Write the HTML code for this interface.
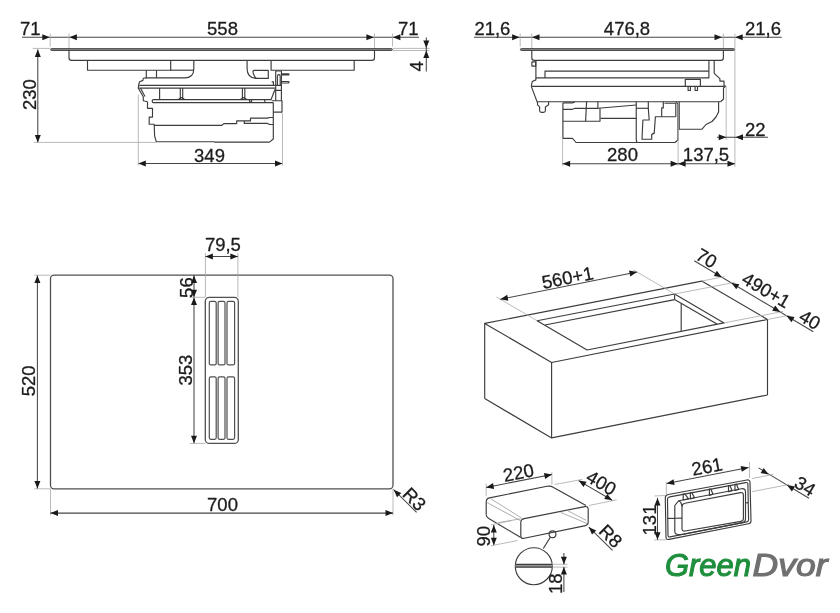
<!DOCTYPE html>
<html><head><meta charset="utf-8"><style>
html,body{margin:0;padding:0;background:#fff;}
svg{display:block;will-change:transform;}
.m{stroke:#3c3c3c;stroke-width:1.15;fill:none;stroke-linejoin:round;}
.d{stroke:#464646;stroke-width:1.05;fill:none;}
.e{stroke:#a8a8a8;stroke-width:0.8;fill:none;}
.e2{stroke:#9a9a9a;stroke-width:0.8;fill:none;}
.a{fill:#1a1a1a;stroke:none;}
.g{fill:#858585;stroke:#2e2e2e;stroke-width:0.8;}
.h{fill:none;stroke:#505050;stroke-width:1.3;}
.s{fill:none;stroke:#505050;stroke-width:1.2;}
.t{font-family:"Liberation Sans",sans-serif;fill:#1c1c1c;stroke:#1c1c1c;stroke-width:0.3;text-anchor:middle;}
.logo{font-family:"Liberation Sans",sans-serif;font-style:italic;font-weight:normal;font-size:31px;}
</style></head><body>
<svg width="840" height="613" viewBox="0 0 840 613">
<line class="d" x1="22.00" y1="37.20" x2="419.00" y2="37.20"/>
<polygon class="a" points="49.80,37.20 42.30,40.20 42.30,34.20"/>
<polygon class="a" points="69.40,37.20 76.90,34.20 76.90,40.20"/>
<polygon class="a" points="373.90,37.20 366.40,40.20 366.40,34.20"/>
<polygon class="a" points="392.90,37.20 400.40,34.20 400.40,40.20"/>
<line class="e" x1="50.20" y1="33.60" x2="50.20" y2="46.50"/>
<line class="e" x1="69.00" y1="33.60" x2="69.00" y2="50.00"/>
<line class="e" x1="374.50" y1="33.60" x2="374.50" y2="50.00"/>
<line class="e" x1="392.50" y1="33.60" x2="392.50" y2="46.50"/>
<text class="t" x="30.30" y="35.32" font-size="18.5">71</text>
<text class="t" x="222.50" y="35.32" font-size="18.5">558</text>
<text class="t" x="408.20" y="35.32" font-size="18.5">71</text>
<rect class="g" x="50.6" y="48.6" width="341.8" height="1.9" rx="0.95"/>
<line class="e" x1="32.70" y1="48.40" x2="50.00" y2="48.40"/>
<line class="e" x1="393.00" y1="48.40" x2="429.50" y2="48.40"/>
<line class="e" x1="393.00" y1="50.50" x2="429.50" y2="50.50"/>
<line class="d" x1="426.30" y1="37.50" x2="426.30" y2="71.50"/>
<polygon class="a" points="426.30,48.00 423.30,40.50 429.30,40.50"/>
<polygon class="a" points="426.30,50.60 429.30,58.10 423.30,58.10"/>
<text class="t" x="416.30" y="72.92" font-size="18.5" transform="rotate(-90.00 416.30 66.30)">4</text>
<line class="d" x1="37.80" y1="49.60" x2="37.80" y2="142.40"/>
<polygon class="a" points="37.80,49.60 40.80,57.10 34.80,57.10"/>
<polygon class="a" points="37.80,142.40 34.80,134.90 40.80,134.90"/>
<text class="t" x="29.50" y="101.22" font-size="18.5" transform="rotate(-90.00 29.50 94.60)">230</text>
<line class="e" x1="34.00" y1="142.40" x2="156.00" y2="142.40"/>
<line class="d" x1="138.30" y1="163.40" x2="282.50" y2="163.40"/>
<polygon class="a" points="138.30,163.40 145.80,160.40 145.80,166.40"/>
<polygon class="a" points="282.50,163.40 275.00,166.40 275.00,160.40"/>
<text class="t" x="209.50" y="162.12" font-size="18.5">349</text>
<line class="e" x1="138.30" y1="94.80" x2="138.30" y2="165.70"/>
<line class="e" x1="282.50" y1="113.00" x2="282.50" y2="165.70"/>
<path class="m" d="M69,50.6 V57.8 Q69,60.4 71.6,60.4 H371.9 Q374.5,60.4 374.5,57.8 V50.6"/>
<polyline class="m" points="87.50,60.40 87.50,70.20 170.70,70.20 170.70,60.40"/>
<polyline class="m" points="271.10,60.40 271.10,70.20 354.20,70.20 354.20,60.40"/>
<path class="m" d="M193.8,60.4 V69 Q193.8,77.9 184.5,77.9 H146.3 V70.2"/>
<line class="m" x1="156.50" y1="70.20" x2="156.50" y2="77.90"/>
<line class="m" x1="170.40" y1="70.20" x2="193.80" y2="70.20"/>
<path class="m" d="M247.1,60.4 V68.5 Q247.1,78.4 257,78.4 H268.3 V70.4 H254.5 Q252,70.4 253.5,74 Q255,78.4 257,78.4"/>
<polyline class="m" points="275.70,71.00 275.70,85.30 281.40,85.30 281.40,71.00 275.70,71.00"/>
<path class="m" d="M277.4,85.3 V76.5 Q277.4,74.6 278.8,74.6 Q280.2,74.6 280.2,76.5 V85.3"/>
<path class="m" d="M281.4,73.8 H288.6 Q289.4,74.4 288.6,75 H281.4"/>
<path class="m" d="M281.4,81.5 H288.6 Q289.4,82.25 288.6,83 H281.4"/>
<polyline class="m" points="271.70,81.80 273.40,81.80 273.40,85.30"/>
<polyline class="m" points="146.30,77.90 143.30,78.30 142.90,80.40 139.60,81.70 138.75,84.50 138.30,88.30 143.30,96.70 143.30,100.80 147.50,101.70"/>
<line class="m" x1="139.30" y1="85.30" x2="275.10" y2="85.30"/>
<line class="m" x1="138.30" y1="88.10" x2="275.10" y2="88.10"/>
<line class="m" x1="140.50" y1="88.30" x2="145.00" y2="96.50"/>
<path class="m" d="M152.9,99.6 H271.4 M152.9,102.6 H273.3 M152.9,99.6 Q151.5,101.1 152.9,102.6"/>
<line class="m" x1="159.60" y1="88.10" x2="159.60" y2="99.60"/>
<line class="m" x1="180.30" y1="88.10" x2="180.30" y2="99.60"/>
<line class="m" x1="182.70" y1="88.10" x2="182.70" y2="99.60"/>
<polyline class="m" points="178.30,99.60 181.50,97.50 184.70,99.60"/>
<line class="m" x1="242.40" y1="88.10" x2="242.40" y2="99.60"/>
<line class="m" x1="244.80" y1="88.10" x2="244.80" y2="99.60"/>
<polyline class="m" points="240.40,99.60 243.60,97.50 246.80,99.60"/>
<circle class="m" cx="250.6" cy="100.7" r="1.2"/>
<line class="m" x1="264.80" y1="99.60" x2="264.80" y2="102.60"/>
<polyline class="m" points="275.70,85.30 275.70,90.40 281.40,90.40 281.40,85.30"/>
<line class="m" x1="275.10" y1="89.30" x2="271.10" y2="99.50"/>
<polyline class="m" points="275.70,90.40 275.70,100.70"/>
<polyline class="m" points="281.40,90.40 281.40,100.70"/>
<polyline class="m" points="271.70,100.70 282.00,100.70 282.00,112.10 273.30,112.10"/>
<polyline class="m" points="147.50,101.70 147.50,108.30 152.50,108.30 152.50,117.10 149.20,117.10 149.20,124.20 154.20,124.20 154.60,135.80 156.25,141.70 214.00,141.70 215.00,142.10 269.50,142.10 273.30,139.00 273.30,102.60"/>
<polyline class="m" points="154.20,125.30 221.90,125.30 223.80,123.60 236.70,123.60 236.70,120.90 244.30,120.90 244.30,123.40 267.60,123.40 269.50,124.50 273.30,124.50"/>
<polyline class="m" points="244.30,120.90 250.50,120.90 250.50,118.10 267.60,118.10 269.50,117.50 273.30,117.50"/>
<line class="d" x1="474.00" y1="37.20" x2="781.70" y2="37.20"/>
<polygon class="a" points="519.60,37.20 512.10,40.20 512.10,34.20"/>
<polygon class="a" points="532.00,37.20 539.50,34.20 539.50,40.20"/>
<polygon class="a" points="722.00,37.20 714.50,40.20 714.50,34.20"/>
<polygon class="a" points="735.20,37.20 742.70,34.20 742.70,40.20"/>
<line class="e" x1="520.20" y1="33.60" x2="520.20" y2="46.50"/>
<line class="e" x1="531.80" y1="33.60" x2="531.80" y2="50.00"/>
<line class="e" x1="723.40" y1="33.60" x2="723.40" y2="50.00"/>
<line class="e" x1="734.90" y1="33.60" x2="734.90" y2="166.90"/>
<text class="t" x="492.40" y="35.32" font-size="18.5">21,6</text>
<text class="t" x="627.00" y="35.32" font-size="18.5">476,8</text>
<text class="t" x="763.00" y="35.32" font-size="18.5">21,6</text>
<rect class="g" x="520.4" y="48.6" width="214" height="1.9" rx="0.95"/>
<path class="m" d="M531.8,50.6 V57.8 Q531.8,60.4 534.4,60.4 H720.8 Q723.4,60.4 723.4,57.8 V50.6"/>
<polyline class="m" points="535.90,60.40 535.90,79.90 532.20,81.50 531.40,85.70 531.40,86.40"/>
<rect class="m" x="531.9" y="61.9" width="3.8" height="4.2" fill="none"/>
<polyline class="m" points="545.00,78.00 545.00,71.10 708.90,71.10"/>
<line class="m" x1="708.90" y1="60.60" x2="708.90" y2="78.20"/>
<line class="m" x1="535.90" y1="77.90" x2="708.90" y2="77.90"/>
<polyline class="m" points="714.20,60.60 714.20,73.30 719.90,78.60 719.90,81.10 724.00,81.10 724.00,85.50 725.60,86.30 723.50,88.00 723.50,99.00 720.50,101.70"/>
<line class="m" x1="531.40" y1="86.40" x2="724.00" y2="86.40"/>
<line class="m" x1="531.40" y1="86.60" x2="537.00" y2="101.60"/>
<line class="m" x1="536.60" y1="101.70" x2="720.50" y2="101.70"/>
<path class="m" d="M537.5,101.7 V104.8 L539.6,106.9 V110.5 Q539.6,112.4 541.5,112.4 H543.5 Q545.4,112.4 545.4,110.5 V106.9 L548.6,104.8 V101.7"/>
<polyline class="m" points="685.30,86.40 685.30,79.40 700.40,79.40 700.40,86.40"/>
<polyline class="m" points="688.10,86.40 688.10,90.50 690.40,90.50 690.40,86.40"/>
<polyline class="m" points="695.10,86.40 695.10,90.50 697.50,90.50 697.50,86.40"/>
<polyline class="m" points="562.90,102.90 562.90,138.30 572.50,138.30 575.00,141.25 576.00,142.50 675.00,142.50 677.90,140.00 677.90,104.00 676.00,101.70"/>
<path class="m" d="M562.9,102.9 H572.5 L575,101.7"/>
<polyline class="m" points="562.90,109.30 572.50,109.30 575.00,108.30 598.30,108.30 636.25,105.00"/>
<polyline class="m" points="586.60,101.50 585.60,121.25"/>
<line class="m" x1="597.90" y1="101.50" x2="597.90" y2="108.30"/>
<polyline class="m" points="600.00,108.30 600.00,121.25 562.90,121.25"/>
<line class="m" x1="600.50" y1="118.30" x2="636.25" y2="118.30"/>
<polyline class="m" points="636.25,101.50 636.25,140.00 637.00,142.50"/>
<line class="m" x1="636.25" y1="108.30" x2="648.30" y2="108.30"/>
<polyline class="m" points="648.30,101.50 648.30,108.30 649.20,120.00 642.90,120.00 642.00,139.20 651.70,139.20 651.70,134.20 652.90,134.20 652.90,133.30 654.20,133.30 655.40,116.70 675.80,116.70"/>
<polyline class="m" points="663.30,101.70 663.30,107.90 661.70,107.90 661.70,116.70"/>
<polyline class="m" points="664.50,103.20 675.80,103.20 675.80,116.70"/>
<polyline class="m" points="679.20,101.70 679.20,129.20 702.00,129.20 706.00,124.50 712.00,121.50 716.00,117.00 718.60,112.00 718.60,101.70"/>
<line class="e" x1="562.60" y1="138.00" x2="562.60" y2="166.00"/>
<line class="e" x1="678.10" y1="104.00" x2="678.10" y2="166.00"/>
<line class="d" x1="562.60" y1="163.80" x2="678.10" y2="163.80"/>
<polygon class="a" points="562.60,163.80 570.10,160.80 570.10,166.80"/>
<polygon class="a" points="678.10,163.80 670.60,166.80 670.60,160.80"/>
<line class="d" x1="678.10" y1="163.80" x2="735.00" y2="163.80"/>
<polygon class="a" points="678.10,163.80 685.60,160.80 685.60,166.80"/>
<polygon class="a" points="735.00,163.80 727.50,166.80 727.50,160.80"/>
<text class="t" x="622.50" y="160.82" font-size="18.5">280</text>
<text class="t" x="706.00" y="160.82" font-size="18.5">137,5</text>
<line class="e" x1="726.20" y1="86.00" x2="726.20" y2="140.00"/>
<line class="d" x1="717.00" y1="137.30" x2="768.00" y2="137.30"/>
<polygon class="a" points="726.20,137.30 718.70,140.30 718.70,134.30"/>
<polygon class="a" points="735.50,137.30 743.00,134.30 743.00,140.30"/>
<text class="t" x="755.30" y="135.62" font-size="18.5">22</text>
<rect class="h" x="50.5" y="275.2" width="342.5" height="213.6" rx="3.5"/>
<line class="e" x1="34.40" y1="275.20" x2="50.50" y2="275.20"/>
<line class="e" x1="34.40" y1="488.80" x2="50.50" y2="488.80"/>
<line class="d" x1="37.40" y1="275.60" x2="37.40" y2="488.50"/>
<polygon class="a" points="37.40,275.60 40.40,283.10 34.40,283.10"/>
<polygon class="a" points="37.40,488.50 34.40,481.00 40.40,481.00"/>
<text class="t" x="28.70" y="387.42" font-size="18.5" transform="rotate(-90.00 28.70 380.80)">520</text>
<line class="e" x1="50.50" y1="488.80" x2="50.50" y2="515.50"/>
<line class="e" x1="393.00" y1="488.80" x2="393.00" y2="515.50"/>
<line class="d" x1="50.50" y1="513.10" x2="393.00" y2="513.10"/>
<polygon class="a" points="50.50,513.10 58.00,510.10 58.00,516.10"/>
<polygon class="a" points="393.00,513.10 385.50,516.10 385.50,510.10"/>
<text class="t" x="222.50" y="511.02" font-size="18.5">700</text>
<line class="d" x1="393.50" y1="489.50" x2="416.60" y2="512.40"/>
<polygon class="a" points="393.80,489.80 401.22,492.98 396.98,497.22"/>
<text class="t" x="414.50" y="505.62" font-size="18.5" transform="rotate(45.00 414.50 499.00)">R3</text>
<rect class="h" x="205.3" y="297.3" width="33" height="146.1" rx="4"/>
<rect class="s" x="209.3" y="301.4" width="6.90" height="63.50" rx="1.5"/>
<rect class="s" x="209.3" y="376.9" width="6.90" height="62.40" rx="1.5"/>
<rect class="s" x="218.1" y="301.4" width="6.90" height="63.50" rx="1.5"/>
<rect class="s" x="218.1" y="376.9" width="6.90" height="62.40" rx="1.5"/>
<rect class="s" x="227" y="301.4" width="7.60" height="63.50" rx="1.5"/>
<rect class="s" x="227" y="376.9" width="7.60" height="62.40" rx="1.5"/>
<line class="e" x1="205.40" y1="253.00" x2="205.40" y2="297.00"/>
<line class="e" x1="237.90" y1="253.00" x2="237.90" y2="297.00"/>
<line class="d" x1="205.40" y1="256.50" x2="237.90" y2="256.50"/>
<polygon class="a" points="205.40,256.50 212.90,253.50 212.90,259.50"/>
<polygon class="a" points="237.90,256.50 230.40,259.50 230.40,253.50"/>
<text class="t" x="222.90" y="250.92" font-size="18.5">79,5</text>
<line class="d" x1="194.00" y1="275.00" x2="194.00" y2="443.20"/>
<polygon class="a" points="194.00,275.40 197.00,282.90 191.00,282.90"/>
<polygon class="a" points="194.00,297.20 191.00,289.70 197.00,289.70"/>
<polygon class="a" points="194.00,297.60 197.00,305.10 191.00,305.10"/>
<polygon class="a" points="194.00,443.20 191.00,435.70 197.00,435.70"/>
<line class="e" x1="190.50" y1="297.30" x2="205.30" y2="297.30"/>
<line class="e" x1="190.00" y1="443.40" x2="205.30" y2="443.40"/>
<text class="t" x="186.40" y="294.22" font-size="18.5" transform="rotate(-90.00 186.40 287.60)">56</text>
<text class="t" x="185.80" y="376.72" font-size="18.5" transform="rotate(-90.00 185.80 370.10)">353</text>
<polygon class="m" points="484.70,323.40 701.70,281.10 767.50,319.50 551.60,362.50"/>
<line class="m" x1="484.70" y1="323.40" x2="484.70" y2="398.60"/>
<line class="m" x1="551.60" y1="362.50" x2="551.60" y2="437.90"/>
<line class="m" x1="767.50" y1="319.50" x2="767.50" y2="395.00"/>
<polyline class="m" points="484.70,398.60 551.60,437.90 767.50,395.00"/>
<polygon class="m" points="537.10,320.70 674.60,294.00 724.00,322.90 587.10,350.00"/>
<line class="m" x1="545.00" y1="325.00" x2="674.60" y2="299.60"/>
<line class="m" x1="674.60" y1="294.00" x2="674.60" y2="299.60"/>
<line class="m" x1="674.60" y1="299.60" x2="716.90" y2="324.00"/>
<line class="m" x1="681.20" y1="303.40" x2="681.20" y2="331.40"/>
<line class="e" x1="496.50" y1="297.00" x2="537.10" y2="320.70"/>
<line class="e" x1="633.20" y1="269.80" x2="674.60" y2="294.00"/>
<line class="d" x1="500.40" y1="299.20" x2="637.00" y2="272.00"/>
<polygon class="a" points="500.40,299.20 507.17,294.79 508.34,300.68"/>
<polygon class="a" points="637.00,272.00 630.23,276.41 629.06,270.52"/>
<text class="t" x="567.50" y="284.12" font-size="18.5" transform="rotate(-11.10 567.50 277.50)">560+1</text>
<line class="d" x1="694.20" y1="260.80" x2="813.30" y2="331.70"/>
<line class="e" x1="701.70" y1="281.10" x2="724.70" y2="276.63"/>
<polygon class="a" points="721.75,277.20 713.77,275.94 716.84,270.79"/>
<line class="e" x1="674.60" y1="294.00" x2="734.36" y2="282.38"/>
<polygon class="a" points="731.41,282.95 739.39,284.21 736.32,289.36"/>
<line class="e" x1="724.00" y1="322.90" x2="783.11" y2="311.40"/>
<polygon class="a" points="780.17,311.98 772.19,310.72 775.26,305.56"/>
<line class="e" x1="767.50" y1="319.50" x2="789.52" y2="315.22"/>
<polygon class="a" points="786.57,315.79 794.55,317.05 791.48,322.20"/>
<text class="t" x="706.70" y="264.62" font-size="18.5" transform="rotate(30.30 706.70 258.00)">70</text>
<text class="t" x="766.30" y="296.62" font-size="18.5" transform="rotate(30.30 766.30 290.00)">490+1</text>
<text class="t" x="810.00" y="326.12" font-size="18.5" transform="rotate(30.30 810.00 319.50)">40</text>
<path class="m" d="M486.2,514.5 V502 Q486.2,498.6 489.5,497.9 L547,486.3 Q550.5,485.6 553.5,487.4 L586,505.6"/>
<path class="m" d="M486.2,514.5 Q486.2,517 488.8,518.5 L520.8,537.5"/>
<path class="m" d="M524.2,518.6 L584.8,506.6 Q588.2,505.9 588.2,509.4 V522.3 Q588.2,525 585.5,525.6 L524.2,538.3 Q520.8,539 520.8,535.5 V522.3 Q520.8,519.3 524.2,518.6 Z"/>
<line class="e2" x1="491.00" y1="498.90" x2="521.50" y2="518.00"/>
<line class="e2" x1="487.00" y1="502.50" x2="520.80" y2="520.80"/>
<line class="e2" x1="497.90" y1="522.70" x2="520.80" y2="518.80"/>
<line class="e2" x1="560.60" y1="512.40" x2="587.10" y2="523.50"/>
<line class="e2" x1="568.00" y1="510.80" x2="586.10" y2="520.30"/>
<line class="e" x1="486.20" y1="483.60" x2="486.20" y2="496.00"/>
<line class="e" x1="551.90" y1="472.00" x2="551.90" y2="484.50"/>
<line class="d" x1="486.20" y1="487.40" x2="551.90" y2="474.60"/>
<polygon class="a" points="486.20,487.40 492.99,483.02 494.14,488.91"/>
<polygon class="a" points="551.90,474.60 545.11,478.98 543.96,473.09"/>
<text class="t" x="518.50" y="479.12" font-size="18.5" transform="rotate(-11.10 518.50 472.50)">220</text>
<line class="e" x1="554.80" y1="484.50" x2="582.40" y2="479.40"/>
<line class="e" x1="589.00" y1="505.50" x2="616.70" y2="499.80"/>
<line class="d" x1="578.60" y1="480.60" x2="612.20" y2="500.30"/>
<polygon class="a" points="578.60,480.60 586.59,481.81 583.55,486.98"/>
<polygon class="a" points="612.20,500.30 604.21,499.09 607.25,493.92"/>
<text class="t" x="601.50" y="489.22" font-size="18.5" transform="rotate(30.30 601.50 482.60)">400</text>
<line class="d" x1="493.80" y1="524.90" x2="493.80" y2="545.20"/>
<polygon class="a" points="493.80,524.90 496.80,532.40 490.80,532.40"/>
<polygon class="a" points="493.80,545.20 490.80,537.70 496.80,537.70"/>
<line class="e" x1="491.00" y1="545.80" x2="517.60" y2="540.50"/>
<line class="e" x1="491.00" y1="524.90" x2="512.00" y2="520.50"/>
<text class="t" x="483.10" y="542.82" font-size="18.5" transform="rotate(-90.00 483.10 536.20)">90</text>
<line class="d" x1="588.80" y1="527.20" x2="612.50" y2="550.40"/>
<polygon class="a" points="588.80,527.20 596.22,530.38 591.98,534.62"/>
<text class="t" x="610.80" y="542.62" font-size="18.5" transform="rotate(45.00 610.80 536.00)">R8</text>
<circle class="m" cx="552.5" cy="534.2" r="3.4"/>
<line class="m" x1="550.30" y1="537.30" x2="543.30" y2="548.50"/>
<circle class="m" cx="533.8" cy="566.2" r="18.5"/>
<rect x="515.5" y="564.2" width="36.6" height="3" fill="#999"/>
<line class="m" x1="515.50" y1="564.30" x2="552.00" y2="564.30"/>
<line class="m" x1="515.50" y1="567.10" x2="552.00" y2="567.10"/>
<line class="e" x1="552.50" y1="564.30" x2="567.50" y2="564.30"/>
<line class="e" x1="552.50" y1="567.10" x2="567.50" y2="567.10"/>
<line class="d" x1="563.90" y1="552.90" x2="563.90" y2="564.30"/>
<polygon class="a" points="563.90,564.30 560.90,556.80 566.90,556.80"/>
<line class="d" x1="563.90" y1="567.10" x2="563.90" y2="591.90"/>
<polygon class="a" points="563.90,567.10 566.90,574.60 560.90,574.60"/>
<text class="t" x="555.30" y="590.42" font-size="18.5" transform="rotate(-90.00 555.30 583.80)">18</text>
<path class="m" d="M668.2,494.5 L746.9,480 Q749.9,479.5 750,482.5 L751,520.8 Q751.1,523.3 748.5,523.8 L669,539.4 Q666,540 666,537 L665.3,498 Q665.2,495 668.2,494.5 Z"/>
<path class="m" d="M669.8,496.9 L745.6,482.6 Q747.9,482.2 747.9,484.5 L748.6,519.6 Q748.6,521.5 746.8,521.9 L670,536.9 Q668,537.3 668,535.3 L667.5,499 Q667.5,497.3 669.8,496.9 Z"/>
<path class="m" d="M674.8,531.5 V505.5 L678.8,500.7 L741.5,488.8 Q745.5,488.1 745.5,492 V519 Q745.5,522 742.5,522.6 L683,534.2 Q674.8,535.8 674.8,531.5"/>
<path class="m" d="M685,503.2 L740.5,492.6 Q743.4,492.1 743.4,495 V518.5 Q743.4,521 741,521.4 L685,531 Q682,531.5 682,528.5 V506.5 Q682,503.7 685,503.2 Z"/>
<path class="m" d="M678.8,500.7 Q681.5,502 682,506.5"/>
<polyline class="m" points="683.20,493.46 683.20,500.04 688.60,498.84 684.40,493.46"/>
<polyline class="m" points="690.40,492.12 690.40,498.92 694.50,497.72 691.60,492.12"/>
<polyline class="m" points="709.40,488.59 709.40,495.40 713.00,494.20 710.60,488.59"/>
<polyline class="m" points="728.50,485.04 728.50,491.79 732.00,490.59 729.70,485.04"/>
<polyline class="m" points="735.00,483.83 735.00,490.54 738.60,489.34 736.20,483.83"/>
<line class="m" x1="667.50" y1="518.40" x2="674.80" y2="518.40"/>
<line class="m" x1="674.80" y1="518.30" x2="682.00" y2="518.10"/>
<line class="m" x1="745.50" y1="503.00" x2="748.20" y2="502.60"/>
<line class="e" x1="666.30" y1="482.00" x2="666.30" y2="494.00"/>
<line class="e" x1="749.50" y1="462.00" x2="749.50" y2="478.00"/>
<line class="d" x1="666.70" y1="483.60" x2="748.60" y2="467.40"/>
<polygon class="a" points="666.70,483.60 673.48,479.20 674.64,485.09"/>
<polygon class="a" points="748.60,467.40 741.82,471.80 740.66,465.91"/>
<text class="t" x="707.00" y="473.02" font-size="18.5" transform="rotate(-11.10 707.00 466.40)">261</text>
<line class="e" x1="654.30" y1="496.00" x2="665.40" y2="495.50"/>
<line class="e" x1="654.30" y1="539.90" x2="666.00" y2="539.80"/>
<line class="d" x1="657.50" y1="497.90" x2="657.50" y2="539.80"/>
<polygon class="a" points="657.50,497.90 660.50,505.40 654.50,505.40"/>
<polygon class="a" points="657.50,539.80 654.50,532.30 660.50,532.30"/>
<text class="t" x="649.00" y="526.62" font-size="18.5" transform="rotate(-90.00 649.00 520.00)">131</text>
<line class="d" x1="758.50" y1="467.90" x2="809.00" y2="498.20"/>
<polygon class="a" points="768.60,474.40 760.63,473.11 763.72,467.97"/>
<polygon class="a" points="787.00,485.10 794.97,486.39 791.88,491.53"/>
<line class="e" x1="751.90" y1="478.60" x2="773.30" y2="474.40"/>
<line class="e" x1="751.90" y1="491.70" x2="789.00" y2="484.50"/>
<text class="t" x="805.20" y="492.62" font-size="18.5" transform="rotate(31.00 805.20 486.00)">34</text>
<text class="logo" x="665" y="575.7" textLength="86" lengthAdjust="spacingAndGlyphs" fill="#1f8f3d" stroke="#1f8f3d" stroke-width="1.1">Green</text>
<text class="logo" x="752.5" y="575.7" textLength="75" lengthAdjust="spacingAndGlyphs" fill="#707070" stroke="#707070" stroke-width="1.1">Dvor</text>
</svg>
</body></html>
